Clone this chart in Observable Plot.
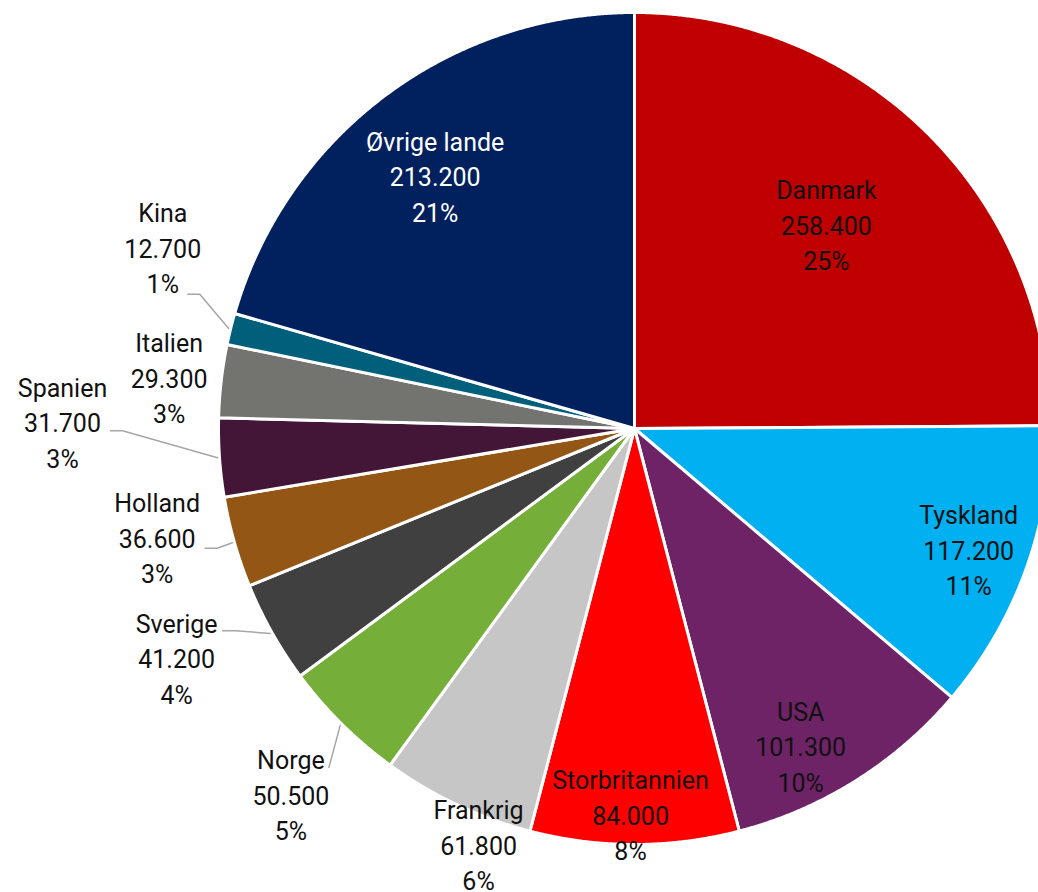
<!DOCTYPE html>
<html>
<head>
<meta charset="utf-8">
<script src="https://cdn.jsdelivr.net/npm/d3@7"></script>
<script src="https://cdn.jsdelivr.net/npm/@observablehq/plot@0.6"></script>
<style>
  html, body { margin: 0; padding: 0; background: #fff; overflow: hidden; }
</style>
</head>
<body>
<div id="chart"></div>
<script>
// ---- data ----
const countries = ["Danmark", "Tyskland", "USA", "Storbritannien", "Frankrig", "Norge", "Sverige", "Holland", "Spanien", "Italien", "Kina", "Øvrige lande"];
const values = [258400, 117200, 101300, 84000, 61800, 50500, 41200, 36600, 31700, 29300, 12700, 213200];
const percentLabels = ["25%", "11%", "10%", "8%", "6%", "5%", "4%", "3%", "3%", "3%", "1%", "21%"];

// ---- styles ----
const colors = ["#C00000", "#00B0F0", "#6E2367", "#FF0000", "#C6C6C6", "#75AF3A", "#404040", "#935614", "#431638", "#737370", "#005F7A", "#00205E"];
const textColors = ["#111", "#111", "#111", "#111", "#111", "#111", "#111", "#111", "#111", "#111", "#111", "#fff"];

// ---- layout ----
const W = 1038, H = 892, CX = 634, CY = 428, R = 416;
const labelRadius = [0.67, 0.856, 0.865, 0.933, 1.072, 1.21, 1.233, 1.178, 1.375, 1.125, 1.213, 0.77];
const labelAngleShift = [-1.3, 0.25, 4.65, 0.6, -4.8, -1.7, 2.55, 2.8, 4.5, -0.56, 6.95, -1.5]; // degrees
// leader lines: [startDx, startDy, elbowDx, elbowDy] relative to label centre (pixels, y down)
const leaderOffsets = {
  "Kina": [25, 45, 37, 45],
  "Spanien": [48, 7, 60, 7],
  "Holland": [48, 9, 60, 9],
  "Sverige": [46, -29, 59, -29],
  "Norge": [38, -29, 38, -29]
};

const fmt = d3.formatLocale({decimal: ",", thousands: ".", grouping: [3], currency: ["", " kr."]}).format(",");

const arcs = d3.pie().sort(null).value(d => d).startAngle(0).endAngle(2 * Math.PI)(values);

// slice polygons (pixel units relative to pie centre, y up)
const slicePts = [];
arcs.forEach((a, i) => {
  const name = countries[i];
  slicePts.push({name, x: 0, y: 0});
  const n = Math.max(2, Math.ceil((a.endAngle - a.startAngle) / 0.004));
  for (let k = 0; k <= n; k++) {
    const t = a.startAngle + (a.endAngle - a.startAngle) * k / n;
    slicePts.push({name, x: R * Math.sin(t), y: R * Math.cos(t)});
  }
  slicePts.push({name, x: 0, y: 0});
});

// labels
const labels = arcs.map((a, i) => {
  const mid = (a.startAngle + a.endAngle) / 2;
  const t = mid + labelAngleShift[i] * Math.PI / 180;
  return {
    name: countries[i],
    mid,
    x: R * labelRadius[i] * Math.sin(t),
    y: R * labelRadius[i] * Math.cos(t),
    text: countries[i] + "\n" + fmt(values[i]) + "\n" + percentLabels[i],
    color: textColors[i]
  };
});

// leader lines
const leaderPts = [];
labels.forEach(l => {
  const o = leaderOffsets[l.name];
  if (!o) return;
  leaderPts.push({name: l.name, x: l.x + o[0], y: l.y - o[1]});
  leaderPts.push({name: l.name, x: l.x + o[2], y: l.y - o[3]});
  leaderPts.push({name: l.name, x: (R + 2) * Math.sin(l.mid), y: (R + 2) * Math.cos(l.mid)});
});

const chart = Plot.plot({
  width: W,
  height: H,
  margin: 0,
  style: {background: "#fff", overflow: "hidden"},
  x: {type: "linear", domain: [-CX, W - CX], range: [0, W], axis: null},
  y: {type: "linear", domain: [-(H - CY), CY], range: [H, 0], axis: null},
  color: {domain: countries, range: colors},
  marks: [
    Plot.line(slicePts, {x: "x", y: "y", z: "name", fill: "name", stroke: "#fff", strokeWidth: 3, strokeLinejoin: "round", curve: "linear", clip: true}),
    Plot.line(leaderPts, {x: "x", y: "y", z: "name", stroke: "#A6A6A6", strokeWidth: 1.5, curve: "linear"}),
    Plot.text(labels, {x: "x", y: "y", dy: -3, text: "text", fill: d => d.color, fontSize: 25, lineHeight: 1.42, fontFamily: "Roboto", textAnchor: "middle"})
  ]
});
document.getElementById("chart").appendChild(chart);
</script>
</body>
</html>
